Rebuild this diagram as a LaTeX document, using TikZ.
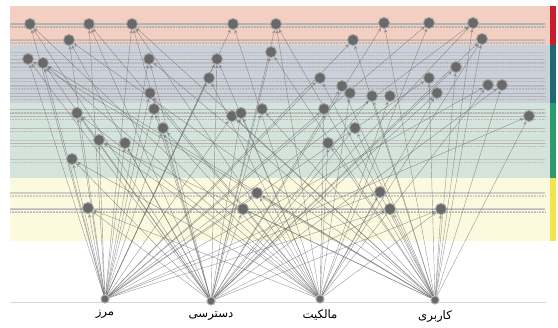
\documentclass[tikz,border=0pt]{standalone}
\usepackage{fontspec}
\newfontfamily\arabicfont[Script=Arabic]{DejaVu Sans}
\TeXXeTstate=1
\usetikzlibrary{arrows}
\usetikzlibrary{positioning}
\definecolor{bandred}{RGB}{243,207,193}
\definecolor{bandblue}{RGB}{203,209,219}
\definecolor{bandgreen}{RGB}{212,228,220}
\definecolor{bandyellow}{RGB}{251,249,222}
\definecolor{barred}{RGB}{200,30,45}
\definecolor{barteal}{RGB}{30,105,115}
\definecolor{bargreen}{RGB}{45,155,110}
\definecolor{baryellow}{RGB}{242,228,75}
\definecolor{nodegray}{RGB}{105,105,105}
\tikzstyle{vertex}=[circle,fill=nodegray,draw=black!35,line width=0.8pt,minimum size=9.5pt,inner sep=0pt]
\tikzstyle{basevertex}=[circle,fill=nodegray,draw=black!30,line width=0.8pt,minimum size=7pt,inner sep=0pt]
\tikzstyle{edge} = [draw,->,>=stealth,line width=0.35pt,black!60,opacity=0.65]
\tikzstyle{level} = [line width=0.3pt,black!30,opacity=0.6]
\tikzstyle{label} = [font=\arabicfont]
\pgfdeclarelayer{bg}
\pgfdeclarelayer{mid}
\pgfsetlayers{bg,mid,main}
\begin{document}
\begin{tikzpicture}[x=0.03cm,y=-0.03cm]
  \useasboundingbox (0,0) rectangle (558,327);

  % bands
  \begin{pgfonlayer}{bg}
  \fill[bandred] (10,6) rectangle (550,45);
  \fill[bandblue] (10,45) rectangle (550,103);
  \fill[bandgreen] (10,103) rectangle (550,178);
  \fill[bandyellow] (10,178) rectangle (550,241);
  \fill[barred] (550,6) rectangle (556,45);
  \fill[barteal] (550,45) rectangle (556,103);
  \fill[bargreen] (550,103) rectangle (556,178);
  \fill[baryellow] (550,178) rectangle (556,241);
  \draw[black!15,line width=0.5pt] (10,302) -- (546,302);
  \end{pgfonlayer}

  % upper nodes
  \foreach \x/\y/\name in {30/24/r1, 89/24/r2, 132/24/r3, 69/40/r4, 233/24/r5, 276/24/r6,
      353/40/r7, 384/23/r8, 429/23/r9, 473/23/r10, 482/39/r11,
      28/59/b1, 43/63/b2, 149/59/b3, 150/93/b4, 217/59/b5, 271/52/b6, 209/78/b7,
      320/78/b8, 342/86/b9, 350/93/b10, 372/96/b11, 390/96/b12, 429/78/b13,
      456/67/b14, 437/93/b15, 488/85/b16, 502/85/b17,
      77/113/g1, 154/109/g2, 163/128/g3, 99/140/g4, 125/143/g5, 72/159/g6,
      232/116/g7, 241/113/g8, 262/109/g9, 324/109/g10, 355/128/g11, 328/143/g12,
      529/116/g13,
      88/208/y1, 257/193/y2, 243/209/y3, 380/192/y4, 390/209/y5, 441/209/y6}
  {
     \node[vertex] (\name) at (\x,\y) {};
     \begin{pgfonlayer}{bg}
       \draw[level] (10,\y) -- (545,\y);
       \draw[level,densely dotted] (10,\y+3) -- (545,\y+3);
     \end{pgfonlayer}
  }

  % base nodes
  \foreach \x/\y/\name/\txt in {105/299/m1/مرز, 211/301/m2/دسترسی, 320/299/m3/مالکیت, 435/300/m4/کاربری}
  {
     \node[basevertex] (\name) at (\x,\y) {};
     \node[label,below=2pt of \name] (\name txt) {\beginR\txt\endR};
  }

  \begin{pgfonlayer}{mid}
  \foreach \dest in {r1,r2,r3,r4,r5,r7,r9,r10,b1,b2,b3,b4,b5,b7,b8,b13,b16,g1,g2,g3,g4,g5,g6,g7,g10,g13,y1,y2,y4,y5}
         \draw[edge] (m1) -- (\dest);

  \foreach \dest in {r1,r2,r3,r4,r6,r8,r10,r11,b1,b2,b3,b5,b6,b9,b11,b14,b15,b17,g1,g2,g3,g5,g6,g8,g9,g11,y1,y3,y5,y6}
         \draw[edge] (m2) -- (\dest);

  \foreach \dest in {r1,r2,r3,r5,r6,r9,r11,b2,b4,b5,b7,b10,b12,b15,b16,g1,g3,g4,g6,g8,g10,g12,y2,y4,y6,y1}
         \draw[edge] (m3) -- (\dest);

  \foreach \dest in {r3,r4,r6,r7,r8,r10,r11,b1,b2,b3,b6,b8,b9,b11,b13,b14,b17,g4,g7,g9,g11,g12,g13,y3,y5,y6,y2}
         \draw[edge] (m4) -- (\dest);
  \end{pgfonlayer}

\end{tikzpicture}
\end{document}
